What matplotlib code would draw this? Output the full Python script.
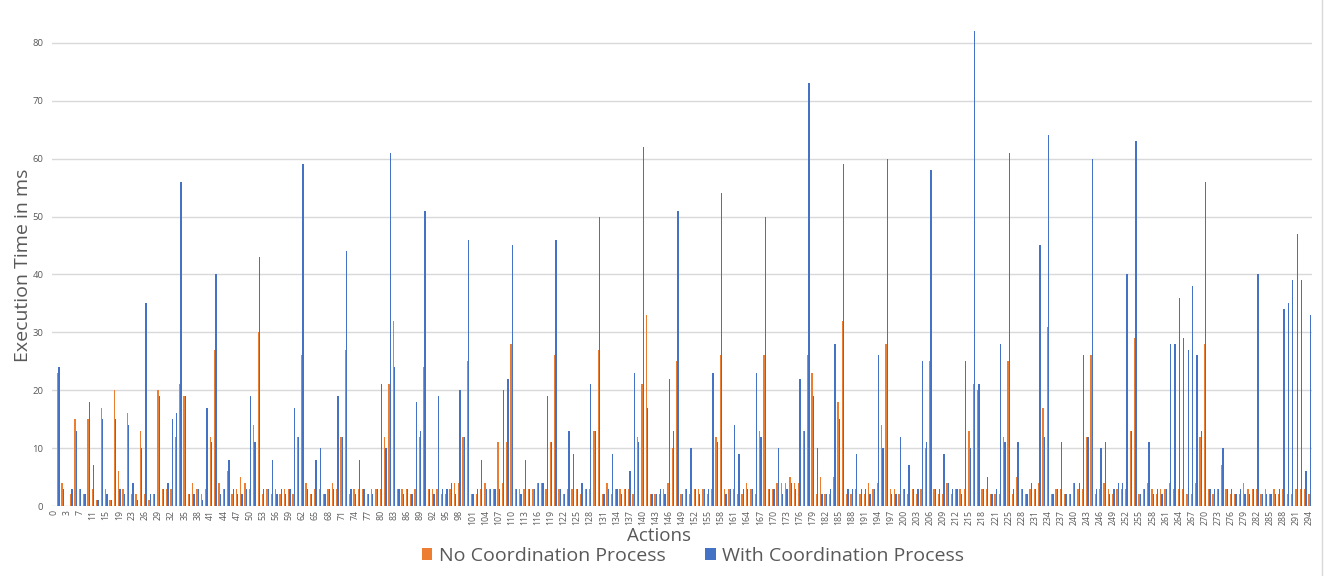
import matplotlib
matplotlib.use("Agg")
import matplotlib.pyplot as plt
from matplotlib.patches import Patch
from matplotlib.lines import Line2D
import numpy as np

plt.rcParams['font.family'] = ['Open Sans', 'DejaVu Sans']

# Execution time (ms) per action, without / with the coordination process
no_coord = [0,
    23, 4, 0, 2, 15, 3, 2, 15, 3, 1,
    17, 3, 1, 20, 6, 3, 16, 2, 2, 13,
    2, 1, 2, 20, 3, 3, 3, 12, 21, 19,
    2, 4, 3, 2, 3, 12, 27, 4, 3, 6,
    2, 3, 5, 4, 3, 14, 30, 2, 3, 2,
    3, 2, 3, 3, 2, 12, 26, 4, 2, 3,
    3, 2, 3, 4, 3, 12, 27, 2, 3, 3,
    3, 2, 3, 3, 3, 12, 21, 32, 3, 3,
    3, 2, 3, 12, 24, 3, 3, 3, 2, 2,
    3, 4, 4, 12, 25, 2, 2, 3, 4, 3,
    3, 11, 4, 11, 28, 3, 3, 3, 3, 3,
    4, 4, 3, 11, 26, 3, 2, 3, 3, 3,
    2, 3, 3, 13, 27, 2, 4, 2, 3, 3,
    3, 3, 2, 12, 21, 33, 2, 2, 2, 3,
    4, 10, 25, 2, 3, 2, 3, 3, 3, 2,
    3, 12, 26, 3, 3, 3, 2, 2, 4, 3,
    2, 13, 26, 3, 3, 4, 4, 4, 5, 4,
    4, 13, 26, 23, 2, 5, 2, 2, 5, 18,
    32, 2, 2, 3, 2, 2, 4, 3, 4, 14,
    28, 3, 3, 2, 3, 2, 3, 2, 3, 10,
    25, 3, 2, 2, 4, 2, 3, 3, 3, 13,
    21, 20, 3, 3, 2, 2, 2, 12, 25, 2,
    5, 3, 2, 3, 3, 4, 17, 31, 2, 3,
    3, 2, 2, 4, 3, 3, 12, 26, 2, 3,
    4, 3, 2, 3, 3, 3, 13, 29, 2, 3,
    4, 3, 2, 3, 3, 4, 3, 3, 3, 2,
    2, 4, 12, 28, 3, 2, 3, 7, 3, 2,
    2, 2, 4, 3, 3, 3, 2, 3, 2, 3,
    2, 3, 2, 2, 3, 3, 3, 2]

with_coord = [0,
    24, 3, 0, 3, 13, 3, 2, 18, 7, 1,
    15, 2, 1, 15, 3, 2, 14, 4, 1, 10,
    35, 2, 2, 19, 3, 4, 15, 16, 56, 19,
    2, 2, 3, 1, 17, 11, 40, 2, 3, 8,
    3, 2, 2, 3, 19, 11, 43, 3, 3, 8,
    2, 3, 2, 3, 17, 12, 59, 3, 2, 8,
    10, 2, 3, 3, 19, 12, 44, 3, 2, 8,
    3, 2, 2, 3, 21, 10, 61, 24, 3, 2,
    3, 2, 18, 13, 51, 3, 2, 19, 3, 3,
    4, 2, 20, 12, 46, 2, 3, 8, 3, 3,
    3, 3, 20, 22, 45, 3, 2, 8, 3, 3,
    4, 4, 19, 11, 46, 3, 2, 13, 9, 3,
    4, 3, 21, 13, 50, 2, 3, 9, 3, 2,
    3, 6, 23, 11, 62, 17, 2, 2, 3, 2,
    22, 13, 51, 2, 3, 10, 3, 2, 3, 3,
    23, 11, 54, 2, 3, 14, 9, 3, 3, 3,
    23, 12, 50, 3, 3, 10, 2, 3, 4, 3,
    22, 13, 73, 19, 10, 2, 2, 3, 28, 15,
    59, 3, 3, 9, 3, 3, 2, 3, 26, 10,
    60, 2, 2, 12, 3, 7, 3, 3, 25, 11,
    58, 3, 3, 9, 4, 3, 3, 2, 25, 10,
    82, 21, 3, 5, 2, 3, 28, 11, 61, 3,
    11, 3, 2, 4, 3, 45, 12, 64, 2, 3,
    11, 2, 2, 4, 4, 26, 12, 60, 3, 10,
    11, 2, 3, 4, 4, 40, 13, 63, 2, 3,
    11, 2, 3, 2, 3, 28, 28, 36, 29, 27,
    38, 26, 13, 56, 3, 3, 3, 10, 3, 3,
    2, 3, 2, 2, 3, 40, 2, 2, 2, 2,
    3, 34, 35, 39, 47, 39, 6, 33]

# Action ids shown on the category axis (every third category)
tick_labels = [0, 3, 7, 11, 15, 19, 23, 26, 29, 32, 35, 38, 41, 44, 47, 50, 53,
               56, 59, 62, 65, 68, 71, 74, 77, 80, 83, 86, 89, 92, 95, 98, 101,
               104, 107, 110, 113, 116, 119, 122, 125, 128, 131, 134, 137, 140,
               143, 146, 149, 152, 155, 158, 161, 164, 167, 170, 173, 176, 179,
               182, 185, 188, 191, 194, 197, 200, 203, 206, 209, 212, 215, 218,
               221, 225, 228, 231, 234, 237, 240, 243, 246, 249, 252, 255, 258,
               261, 264, 267, 270, 273, 276, 279, 282, 285, 288, 291, 294]

series_names = ['No Coordination Process', 'With Coordination Process']
colors = ['#ED7D31', '#4472C4']
text_color = '#595959'
grid_color = '#D9D9D9'

W, H = 1327, 576
fig = plt.figure(figsize=(W / 100, H / 100), dpi=100)
ax = fig.add_axes([51.7 / W, 70 / H, 1260.1 / W, 521.1 / H])

x = np.arange(len(no_coord))
w = 0.3
ax.bar(x - w / 2, no_coord, w, color=colors[0], linewidth=0)
ax.bar(x + w / 2, with_coord, w, color=colors[1], linewidth=0)

ax.set_xlim(-0.5, len(x) - 0.5)
ax.set_ylim(0, 90)
ax.set_yticks(range(0, 81, 10))
ax.yaxis.grid(True, color=grid_color, linewidth=1)
ax.set_axisbelow(True)
for s in ax.spines.values():
    s.set_visible(False)

ax.set_xticks(np.arange(len(tick_labels)) * 3)
ax.set_xticklabels([str(t) for t in tick_labels], rotation=90, fontsize=6.3)
ax.tick_params(axis='x', length=0, pad=3, colors=text_color)
ax.tick_params(axis='y', length=0, pad=6, colors=text_color, labelsize=6.8)

ax.set_ylabel('Execution Time in ms', fontsize=14, color=text_color)
ax.yaxis.set_label_coords((32 - 51.7) / 1260.1, (506 - 265) / 521.1)

fig.text(659 / W, 1 - 536 / H, 'Actions', ha='center', va='center',
         fontsize=13.5, color=text_color)

handles = [Patch(facecolor=c, edgecolor='none') for c in colors]
fig.legend(handles, series_names, loc='center',
           bbox_to_anchor=(693 / W, 1 - 556 / H), ncol=2, frameon=False,
           fontsize=14, handlelength=0.55, handleheight=0.55,
           handletextpad=0.35, columnspacing=2.0, labelcolor=text_color)

# chart-area border on the right
fig.add_artist(Line2D([1322 / W, 1322 / W], [0, 1], transform=fig.transFigure,
                      color=grid_color, linewidth=1))

fig.savefig('out.png', dpi=100)
